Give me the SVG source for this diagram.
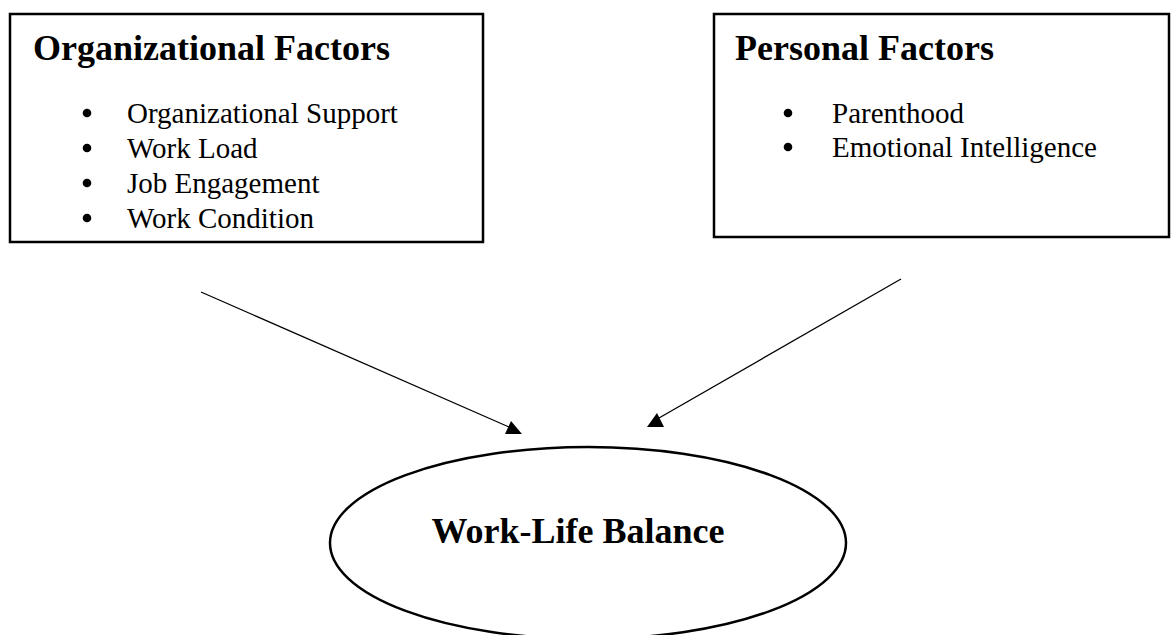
<svg xmlns="http://www.w3.org/2000/svg" width="1171" height="635" viewBox="0 0 1171 635">
<style>
.box{fill:#fff;stroke:#000;stroke-width:2.5}
.title{font-family:"Liberation Serif","Times New Roman",serif;font-weight:bold;font-size:36px;fill:#000}
.item{font-family:"Liberation Serif","Times New Roman",serif;font-size:29px;fill:#000}
.bullet{fill:#000}
.conn{stroke:#000;stroke-width:1.3;fill:none}
.head{fill:#000}
</style>
<rect width="1171" height="635" fill="#fff"/>
<g id="organizational-factors">
<rect class="box" x="10" y="14" width="473" height="228"/>
<text class="title" x="33" y="60">Organizational Factors</text>
<circle class="bullet" cx="87" cy="113" r="4.3"/>
<text class="item" x="127" y="123">Organizational Support</text>
<circle class="bullet" cx="87" cy="148" r="4.3"/>
<text class="item" x="127" y="158">Work Load</text>
<circle class="bullet" cx="87" cy="183" r="4.3"/>
<text class="item" x="127" y="193">Job Engagement</text>
<circle class="bullet" cx="87" cy="218" r="4.3"/>
<text class="item" x="127" y="228">Work Condition</text>
</g>
<g id="personal-factors">
<rect class="box" x="714" y="14" width="455" height="223"/>
<text class="title" x="735" y="60">Personal Factors</text>
<circle class="bullet" cx="788" cy="113" r="4.3"/>
<text class="item" x="832" y="123">Parenthood</text>
<circle class="bullet" cx="788" cy="147" r="4.3"/>
<text class="item" x="832" y="157">Emotional Intelligence</text>
</g>
<g id="work-life-balance">
<ellipse class="box" cx="588" cy="543" rx="258" ry="96"/>
<text class="title" x="578" y="543" text-anchor="middle">Work-Life Balance</text>
</g>
<g id="connectors">
<line class="conn" x1="201" y1="292" x2="509" y2="427"/>
<polygon class="head" points="511,421 505,434 522,434"/>
<line class="conn" x1="901" y1="279" x2="659" y2="418"/>
<polygon class="head" points="657,413 647,427 664,427"/>
</g>
</svg>
